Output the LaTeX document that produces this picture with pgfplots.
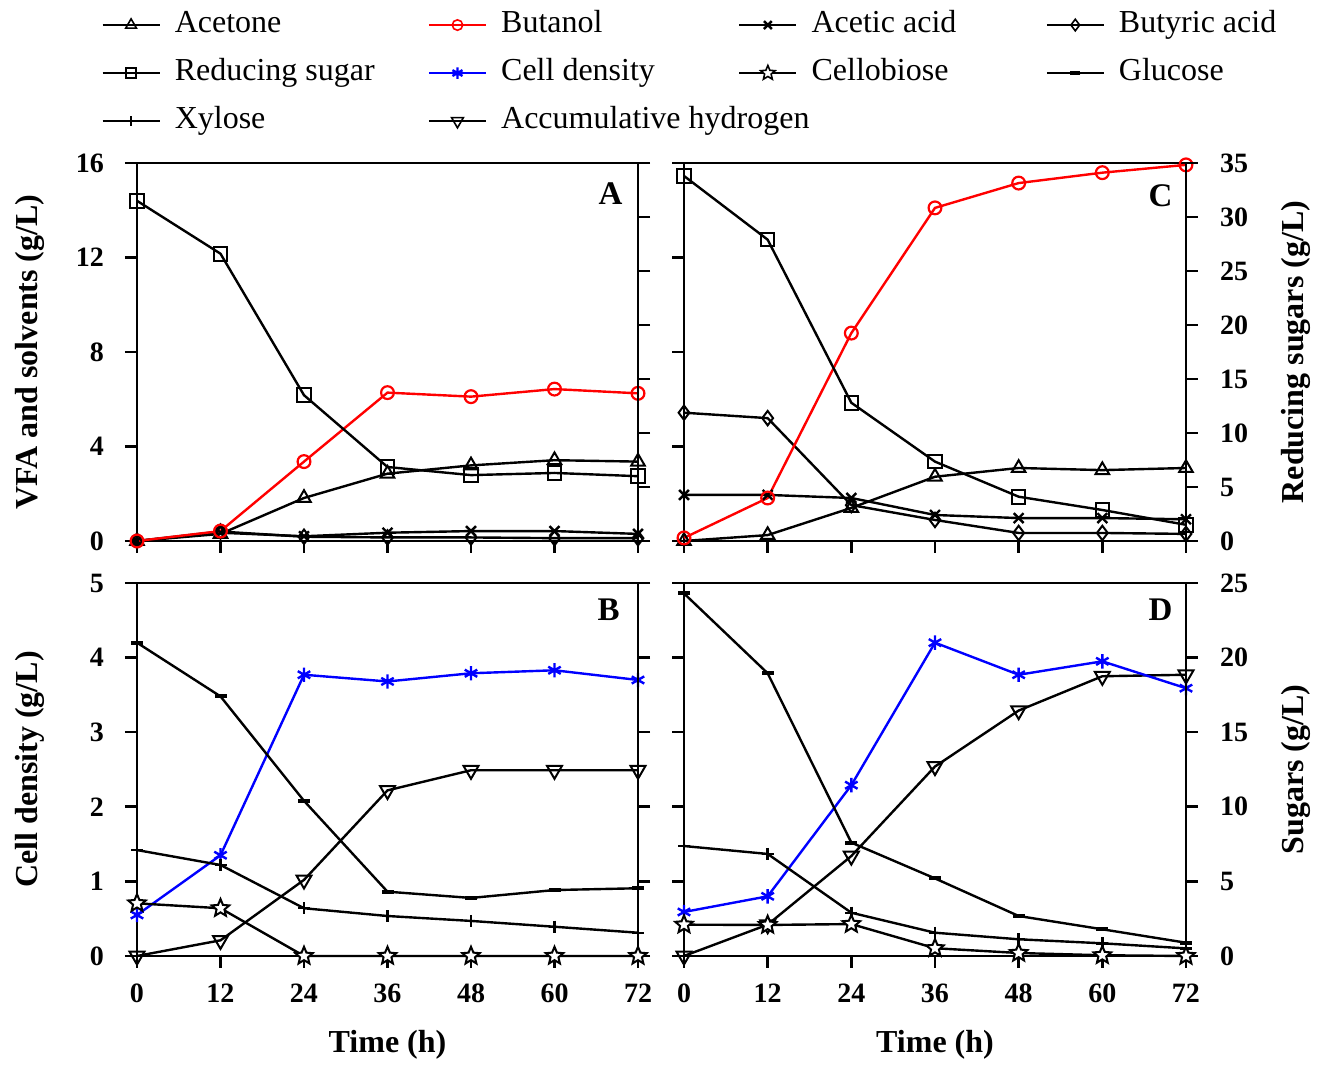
\documentclass[border=0pt]{standalone}
\usepackage{fontspec}
\setmainfont{Liberation Serif}
\usepackage{pgfplots}
\pgfplotsset{compat=1.18}
\usetikzlibrary{plotmarks}

% open five-pointed star
\pgfdeclareplotmark{ostar}{%
  \pgfpathmoveto{\pgfqpointpolar{90}{\pgfplotmarksize}}%
  \pgfpathlineto{\pgfqpointpolar{126}{0.45\pgfplotmarksize}}%
  \pgfpathlineto{\pgfqpointpolar{162}{\pgfplotmarksize}}%
  \pgfpathlineto{\pgfqpointpolar{198}{0.45\pgfplotmarksize}}%
  \pgfpathlineto{\pgfqpointpolar{234}{\pgfplotmarksize}}%
  \pgfpathlineto{\pgfqpointpolar{270}{0.45\pgfplotmarksize}}%
  \pgfpathlineto{\pgfqpointpolar{306}{\pgfplotmarksize}}%
  \pgfpathlineto{\pgfqpointpolar{342}{0.45\pgfplotmarksize}}%
  \pgfpathlineto{\pgfqpointpolar{18}{\pgfplotmarksize}}%
  \pgfpathlineto{\pgfqpointpolar{54}{0.45\pgfplotmarksize}}%
  \pgfpathclose
  \pgfusepathqfillstroke}

\tikzset{letter/.style={font=\fontsize{16.5}{16.5}\selectfont\bfseries, anchor=east, inner sep=0pt}}
\pgfplotsset{
  panel/.style={scale only axis, clip=false, xmin=0, xmax=72,
    tick align=outside, major tick length=6pt,
    axis line style={line width=1.3pt},
    every tick/.style={line width=1.3pt, black},
    tick label style={font=\fontsize{14}{14}\selectfont\bfseries},
    /pgf/number format/assume math mode=true,
    every axis plot/.append style={line width=1.2pt}},
  mainax/.style={panel, xtick={0,12,...,72}, xtick pos=left, ytick pos=left,
    yticklabel style={xshift=-7pt}, xticklabel style={yshift=-4.5pt}},
  secax/.style={panel, axis x line=none, axis y line*=right, ytick pos=right,
    yticklabel style={xshift=7.5pt}},
  ylab/.style={every axis y label/.style={at={(axis description cs:#1,0.5)}, rotate=90, anchor=center, font=\fontsize{16}{16}\selectfont\bfseries}},
  xlab/.style={every axis x label/.style={at={(axis description cs:0.5,-0.2386)}, anchor=center, font=\fontsize{16}{16}\selectfont\bfseries}},
  acetone/.style={black, mark=triangle, mark size=3.9pt, mark options={fill=white, solid, line width=1pt}},
  butanol/.style={red, mark=o, mark size=3.2pt, mark options={fill=white, solid, line width=1.1pt}},
  acetic/.style={black, mark=x, mark size=3.5pt},
  butyric/.style={black, mark=diamond, mark size=3.6pt, mark options={fill=white, solid, line width=1pt}},
  redsug/.style={black, mark=square, mark size=3.4pt, mark options={fill=white, solid, line width=1pt}},
  cell/.style={blue, mark=asterisk, mark size=3.6pt},
  cellob/.style={black, mark=ostar, mark size=4.6pt, mark options={fill=white, solid, line width=1pt}},
  glucose/.style={black, mark=-, mark size=3pt, mark options={line width=2pt}},
  xylose/.style={black, mark=+, mark size=3pt},
  hydro/.style={black, mark=triangle, mark size=4.3pt, mark options={fill=white, solid, rotate=180, line width=1pt}},
  legmk/.style={mark options={fill=white, solid, line width=0.8pt}},
}

\begin{document}
\begin{tikzpicture}
\useasboundingbox (0,0) rectangle (659.5pt,532.5pt);

% ---------- A (top left)
\begin{axis}[mainax, ylab=-0.2136, at={(68.5pt,262pt)}, anchor=south west,
  width=250.5pt, height=189pt, ymin=0, ymax=16, ytick={0,4,...,16}, xticklabels={},
  ylabel={VFA and solvents (g/L)},
  legend style={draw=none, fill=none, inner sep=0pt, at={(axis description cs:-0.0719,1.403)},
    anchor=north west, legend columns=4, font=\fontsize{16}{16}\selectfont,
    nodes={inner sep=0pt, anchor=west, text height=10.5pt, text depth=3.5pt},
    row sep=10pt, /tikz/every odd column/.append style={column sep=7pt}},
  legend image code/.code={\draw[mark repeat=2,mark phase=2,#1] plot coordinates {(0pt,0pt) (14.25pt,0pt) (28.5pt,0pt)};},
]
\addlegendimage{acetone, line width=1.2pt, mark size=3.1pt, legmk}
\addlegendimage{butanol, line width=1.2pt, mark size=2.6pt, legmk}
\addlegendimage{acetic, line width=1.2pt, mark size=2.8pt}
\addlegendimage{butyric, line width=1.2pt, mark size=2.9pt, legmk}
\addlegendimage{redsug, line width=1.2pt, mark size=2.6pt, legmk}
\addlegendimage{cell, line width=1.2pt, mark size=2.9pt}
\addlegendimage{cellob, line width=1.2pt, mark size=3.8pt, legmk}
\addlegendimage{glucose, line width=1.2pt, mark size=2.5pt}
\addlegendimage{xylose, line width=1.2pt, mark size=2.5pt}
\addlegendimage{hydro, line width=1.2pt, mark size=3.4pt, mark options={fill=white, solid, rotate=180, line width=0.8pt}}
\legend{\makebox[126.5pt][l]{Acetone}, \makebox[118.5pt][l]{Butanol}, \makebox[117pt][l]{Acetic acid}, Butyric acid,
  \makebox[126.5pt][l]{Reducing sugar}, \makebox[118.5pt][l]{Cell density}, \makebox[117pt][l]{Cellobiose}, Glucose,
  \makebox[126.5pt][l]{Xylose}, \makebox[118.5pt][l]{Accumulative hydrogen}}
\addplot[acetone] coordinates {(0,0) (12,0.3) (24,1.82) (36,2.85) (48,3.2) (60,3.42) (72,3.36)};
\addplot[acetic] coordinates {(0,0) (12,0.35) (24,0.2) (36,0.35) (48,0.42) (60,0.42) (72,0.3)};
\addplot[butyric] coordinates {(0,0) (12,0.4) (24,0.18) (36,0.15) (48,0.15) (60,0.12) (72,0.12)};
\addplot[butanol] coordinates {(0,0) (12,0.42) (24,3.36) (36,6.28) (48,6.11) (60,6.43) (72,6.25)};
\node[letter] at (axis description cs:0.970,0.919) {A};
\end{axis}
\begin{axis}[secax, at={(68.5pt,262pt)}, anchor=south west,
  width=250.5pt, height=189pt, ymin=0, ymax=35, ytick={0,5,...,35}, yticklabels={}]
\addplot[redsug] coordinates {(0,31.5) (12,26.6) (24,13.5) (36,6.85) (48,6.1) (60,6.3) (72,6.0)};
\end{axis}

% ---------- C (top right)
\begin{axis}[mainax, at={(342pt,262pt)}, anchor=south west,
  width=251pt, height=189pt, ymin=0, ymax=16, ytick={0,4,...,16}, xticklabels={}, yticklabels={}]
\addplot[acetone] coordinates {(0,0) (12,0.25) (24,1.4) (36,2.72) (48,3.09) (60,3.0) (72,3.09)};
\addplot[acetic] coordinates {(0,1.95) (12,1.95) (24,1.82) (36,1.1) (48,0.97) (60,0.97) (72,0.92)};
\addplot[butyric] coordinates {(0,5.43) (12,5.2) (24,1.52) (36,0.89) (48,0.34) (60,0.34) (72,0.3)};
\addplot[butanol] coordinates {(0,0.13) (12,1.82) (24,8.8) (36,14.1) (48,15.15) (60,15.59) (72,15.92)};
\node[letter] at (axis description cs:0.974,0.913) {C};
\end{axis}
\begin{axis}[secax, ylab=1.219, at={(342pt,262pt)}, anchor=south west,
  width=251pt, height=189pt, ymin=0, ymax=35, ytick={0,5,...,35},
  ylabel={Reducing sugars (g/L)}]
\addplot[redsug] coordinates {(0,33.8) (12,27.9) (24,12.8) (36,7.35) (48,4.1) (60,2.87) (72,1.5)};
\end{axis}

% ---------- B (bottom left)
\begin{axis}[mainax, ylab=-0.2136, xlab, at={(68.5pt,54.5pt)}, anchor=south west,
  width=250.5pt, height=186.5pt, ymin=0, ymax=5, ytick={0,1,...,5},
  ylabel={Cell density (g/L)}, xlabel={Time (h)}]
\addplot[cell] coordinates {(0,0.55) (12,1.35) (24,3.77) (36,3.68) (48,3.79) (60,3.83) (72,3.7)};
\addplot[hydro] coordinates {(0,0) (12,0.21) (24,1.02) (36,2.22) (48,2.49) (60,2.49) (72,2.49)};
\node[letter] at (axis description cs:0.964,0.928) {B};
\end{axis}
\begin{axis}[secax, at={(68.5pt,54.5pt)}, anchor=south west,
  width=250.5pt, height=186.5pt, ymin=0, ymax=25, ytick={0,5,...,25}, yticklabels={}]
\addplot[glucose] coordinates {(0,21.0) (12,17.4) (24,10.4) (36,4.31) (48,3.89) (60,4.42) (72,4.54)};
\addplot[xylose] coordinates {(0,7.1) (12,6.1) (24,3.2) (36,2.68) (48,2.35) (60,1.96) (72,1.56)};
\addplot[cellob] coordinates {(0,3.53) (12,3.2) (24,0) (36,0) (48,0) (60,0) (72,0)};
\end{axis}

% ---------- D (bottom right)
\begin{axis}[mainax, xlab, at={(342pt,54.5pt)}, anchor=south west,
  width=251pt, height=186.5pt, ymin=0, ymax=5, ytick={0,1,...,5}, yticklabels={},
  xlabel={Time (h)}]
\addplot[hydro] coordinates {(0,0) (12,0.42) (24,1.34) (36,2.54) (48,3.29) (60,3.75) (72,3.77)};
\addplot[cell] coordinates {(0,0.59) (12,0.8) (24,2.29) (36,4.2) (48,3.77) (60,3.95) (72,3.59)};
\node[letter] at (axis description cs:0.974,0.928) {D};
\end{axis}
\begin{axis}[secax, ylab=1.219, at={(342pt,54.5pt)}, anchor=south west,
  width=251pt, height=186.5pt, ymin=0, ymax=25, ytick={0,5,...,25},
  ylabel={Sugars (g/L)}]
\addplot[glucose] coordinates {(0,24.3) (12,18.95) (24,7.6) (36,5.2) (48,2.68) (60,1.79) (72,0.89)};
\addplot[xylose] coordinates {(0,7.37) (12,6.84) (24,2.9) (36,1.56) (48,1.12) (60,0.85) (72,0.51)};
\addplot[cellob] coordinates {(0,2.1) (12,2.08) (24,2.14) (36,0.52) (48,0.2) (60,0.05) (72,0)};
\end{axis}
\end{tikzpicture}
\end{document}
